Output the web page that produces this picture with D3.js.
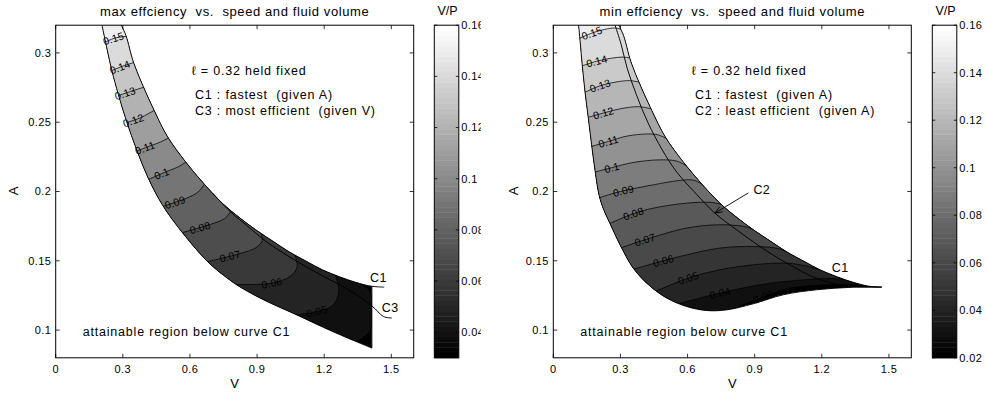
<!DOCTYPE html>
<html>
<head>
<meta charset="utf-8">
<script src="https://cdn.jsdelivr.net/npm/d3@7/dist/d3.min.js"></script>
<style>
  html,body{margin:0;padding:0;background:#fff;}
  svg{display:block;}
  text{font-family:"Liberation Sans", Arial, Helvetica, sans-serif; fill:#000; white-space:pre;}
</style>
</head>
<body>
<svg id="chart" width="986" height="395" viewBox="0 0 986 395"></svg>
<script>
// ===================== DATA =====================
const xTicks = [0, 0.3, 0.6, 0.9, 1.2, 1.5];
const xTickLabels = ["0", "0.3", "0.6", "0.9", "1.2", "1.5"];
const yTicks = [0.1, 0.15, 0.2, 0.25, 0.3];
const yTickLabels = ["0.1", "0.15", "0.2", "0.25", "0.3"];

const leftBarRange = [0.030, 0.16];
const leftBarTicks = [0.04, 0.06, 0.08, 0.1, 0.12, 0.14, 0.16];
const leftBarTickLabels = ["0.04", "0.06", "0.08", "0.1", "0.12", "0.14", "0.16"];
const rightBarRange = [0.02, 0.16];
const rightBarTicks = [0.02, 0.04, 0.06, 0.08, 0.1, 0.12, 0.14, 0.16];
const rightBarTickLabels = ["0.02", "0.04", "0.06", "0.08", "0.1", "0.12", "0.14", "0.16"];

// curve C1 : fastest (given A)  -- [V, A]
const curveC1 = [[0.293,0.320],[0.314,0.3125],[0.347,0.2935],[0.392,0.2755],[0.440,0.2585],
  [0.500,0.2395],[0.580,0.2215],[0.656,0.2068],[0.745,0.1915],[0.824,0.1808],[0.894,0.1724],
  [0.973,0.1639],[1.043,0.1565],[1.122,0.1495],[1.192,0.1435],[1.271,0.1383],[1.340,0.1345],
  [1.405,0.1318],[1.440,0.1312],[1.468,0.1310]];
// curve C3 : most efficient (given V)
const curveC3 = [[0.700,0.1990],[0.780,0.1855],[0.850,0.1760],[0.950,0.1628],[1.077,0.1497],
  [1.200,0.1385],[1.300,0.1300],[1.413,0.1175],[1.465,0.1098],[1.502,0.1087]];
// curve C2 : least efficient (given A)
const curveC2 = [[0.276,0.320],[0.3035,0.306],[0.330,0.289],[0.371,0.270],[0.422,0.250],
  [0.487,0.230],[0.544,0.2157],[0.581,0.2084],[0.640,0.1980],[0.722,0.1844],[0.820,0.1723],
  [0.924,0.1603],[1.043,0.1483],[1.192,0.1363],[1.320,0.1318],[1.420,0.1311],[1.468,0.1310]];

// left panel region: lower boundary and right cut-off
const leftLowerEdge = [[0.207,0.320],[0.250,0.2880],[0.280,0.2700],[0.317,0.2505],[0.362,0.2300],
  [0.414,0.2095],[0.478,0.1900],[0.563,0.1710],[0.675,0.1500],[0.750,0.1395],[0.830,0.1305],
  [0.940,0.1210],[1.070,0.1115],[1.240,0.0988],[1.413,0.0870]];
const leftRightEdgeV = 1.413;

// right panel region: lower boundary
const rightLowerEdge = [[0.113,0.320],[0.120,0.3085],[0.130,0.2900],[0.142,0.2715],[0.156,0.2535],
  [0.171,0.2340],[0.187,0.2145],[0.205,0.1970],[0.225,0.1870],[0.253,0.1770],[0.298,0.1616],
  [0.358,0.1445],[0.432,0.1318],[0.507,0.1231],[0.596,0.1170],[0.686,0.1141],[0.775,0.1146],
  [0.894,0.1190],[1.028,0.1255],[1.177,0.1291],[1.326,0.1308],[1.468,0.1310]];

// left panel contour levels (V/P) and lines (pieces of [V, A])
const leftLevels = [0.04, 0.05, 0.06, 0.07, 0.08, 0.09, 0.10, 0.11, 0.12, 0.13, 0.14, 0.15];
const leftContours = [
  [[[1.345,0.0915],[1.385,0.0960],[1.405,0.0995],[1.413,0.1025]],
   [[1.413,0.1245],[1.400,0.1290],[1.380,0.1318],[1.358,0.1337]]],
  [[[1.070,0.1108],[1.166,0.1134],[1.232,0.1170],[1.258,0.1230],[1.265,0.1300],[1.250,0.1397]]],
  [[[0.795,0.1328],[0.965,0.1339],[1.047,0.1387],[1.078,0.1450],[1.077,0.1500],[1.068,0.1545]]],
  [[[0.675,0.1492],[0.830,0.1555],[0.895,0.1595],[0.923,0.1645],[0.918,0.1698]]],
  [[[0.563,0.1702],[0.690,0.1762],[0.755,0.1805],[0.785,0.1860]]],
  [[[0.478,0.1892],[0.585,0.1952],[0.635,0.1995],[0.665,0.2052]]],
  [[[0.414,0.2087],[0.496,0.2144],[0.550,0.2180],[0.582,0.2212]]],
  [[[0.362,0.2292],[0.421,0.2328],[0.470,0.2358],[0.503,0.2386]]],
  [[[0.317,0.2497],[0.380,0.2533],[0.440,0.2585]]],
  [[[0.280,0.2692],[0.335,0.2722],[0.393,0.2752]]],
  [[[0.250,0.2872],[0.300,0.2905],[0.348,0.2930]]],
  [[[0.218,0.3075],[0.260,0.3105],[0.315,0.3120]]]
];
const leftLabelV = [null, 1.167, 0.966, 0.779, 0.645, 0.533, 0.474, 0.399, 0.347, 0.310, 0.287, 0.258];

// right panel contour levels and lines
const rightLevels = [0.03, 0.04, 0.05, 0.06, 0.07, 0.08, 0.09, 0.10, 0.11, 0.12, 0.13, 0.14, 0.15];
const rightContours = [
  [[[0.800,0.1150],[0.939,0.1240],[1.050,0.1300],[1.200,0.1325],[1.350,0.1326],[1.440,0.1314]]],
  [[[0.560,0.1190],[0.745,0.1267],[0.954,0.1335],[1.100,0.1360],[1.220,0.1372],[1.300,0.1368]]],
  [[[0.460,0.1282],[0.603,0.1375],[0.745,0.1435],[0.894,0.1471],[1.043,0.1483],[1.133,0.1462],[1.192,0.1435]]],
  [[[0.360,0.1440],[0.492,0.1500],[0.596,0.1543],[0.745,0.1592],[0.894,0.1603],[1.000,0.1590],[1.043,0.1565]]],
  [[[0.305,0.1595],[0.410,0.1652],[0.596,0.1736],[0.745,0.1760],[0.860,0.1745],[0.894,0.1724]]],
  [[[0.250,0.1768],[0.358,0.1840],[0.447,0.1880],[0.596,0.1916],[0.700,0.1922],[0.745,0.1910]]],
  [[[0.205,0.1955],[0.300,0.2000],[0.447,0.2048],[0.566,0.2080],[0.625,0.2082],[0.664,0.2054]]],
  [[[0.186,0.2140],[0.261,0.2172],[0.360,0.2210],[0.470,0.2228],[0.550,0.2220],[0.597,0.2184]]],
  [[[0.171,0.2325],[0.246,0.2361],[0.330,0.2400],[0.420,0.2415],[0.470,0.2408],[0.505,0.2384]]],
  [[[0.155,0.2535],[0.224,0.2566],[0.300,0.2597],[0.380,0.2612],[0.436,0.2598]]],
  [[[0.140,0.2715],[0.209,0.2763],[0.280,0.2790],[0.340,0.2800],[0.383,0.2790]]],
  [[[0.126,0.2905],[0.194,0.2940],[0.260,0.2962],[0.310,0.2970],[0.342,0.2964]]],
  [[[0.117,0.3105],[0.172,0.3143],[0.230,0.3170],[0.275,0.3180],[0.301,0.3172]]]
];
const rightLabelV = [0.939, 0.745, 0.603, 0.492, 0.410, 0.358, 0.313, 0.261, 0.246, 0.224, 0.209, 0.194, 0.172];

// texts
const leftTitle = "max effciency  vs.  speed and fluid volume";
const rightTitle = "min effciency  vs.  speed and fluid volume";
const leftNotes = ["\u2113 = 0.32 held fixed", "C1 : fastest  (given A)", "C3 : most efficient  (given V)"];
const rightNotes = ["\u2113 = 0.32 held fixed", "C1 : fastest  (given A)", "C2 : least efficient  (given A)"];
const regionNote = "attainable region below curve C1";
const c2ArrowFrom = [0.872, 0.1990];
const c2ArrowTo = [0.722, 0.1844];

// ===================== RENDERING =====================
const svg = d3.select("#chart");
const Y_RANGE = [357.8, 25.2];
const PLOT_W = 358;
const BAR_W = 24.5;
const smooth = d3.line().curve(d3.curveCatmullRom.alpha(0.5));

function makeScales(x0) {
  return {
    x: d3.scaleLinear().domain([0, 1.6]).range([x0, x0 + PLOT_W]),
    y: d3.scaleLinear().domain([0.08, 0.32]).range(Y_RANGE)
  };
}
function grayT(t) {
  t = Math.max(0, Math.min(1, t));
  const idx = Math.min(63, Math.floor(t * 64));
  const g = Math.round(idx / 63 * 255);
  return `rgb(${g},${g},${g})`;
}
function grayFor(v, range) { return grayT((v - range[0]) / (range[1] - range[0])); }
function toPix(pts, s) { return pts.map(p => [s.x(p[0]), s.y(p[1])]); }
function extendPix(pts, len) {
  const a = pts[0], b = pts[1], n = pts.length, c = pts[n - 1], d = pts[n - 2];
  const d1 = Math.hypot(a[0] - b[0], a[1] - b[1]), d2 = Math.hypot(c[0] - d[0], c[1] - d[1]);
  return [[a[0] + (a[0] - b[0]) / d1 * len, a[1] + (a[1] - b[1]) / d1 * len], ...pts,
          [c[0] + (c[0] - d[0]) / d2 * len, c[1] + (c[1] - d[1]) / d2 * len]];
}
function interpA(curve, v) {
  for (let i = 0; i < curve.length - 1; i++) {
    const p = curve[i], q = curve[i + 1];
    if (v >= p[0] && v <= q[0]) return p[1] + (q[1] - p[1]) * (v - p[0]) / (q[0] - p[0]);
  }
  return curve[curve.length - 1][1];
}
function levelFillPath(pieces, s) {
  let d = "", first, last;
  pieces.forEach((pc, i) => {
    const px = extendPix(toPix(pc, s), 5);
    const seg = smooth(px);
    d += i === 0 ? seg : seg.replace(/^M/, "L");
    if (i === 0) first = px[0];
    last = px[px.length - 1];
  });
  d += `L${last[0]},-2000L-3000,-2000L-3000,3000L${first[0]},3000Z`;
  return d;
}

let clipId = 0;
function drawPanel(cfg) {
  const s = makeScales(cfg.x0);
  const x0 = cfg.x0, x1 = cfg.x0 + PLOT_W, yb = Y_RANGE[0], yt = Y_RANGE[1];
  const g = svg.append("g");
  const defs = svg.append("defs");
  const pid = "pc" + (clipId++), rid = "rc" + (clipId++);
  defs.append("clipPath").attr("id", pid).append("rect")
    .attr("x", x0).attr("y", yt).attr("width", PLOT_W).attr("height", yb - yt);
  defs.append("clipPath").attr("id", rid).append("path").attr("d", cfg.regionD(s));

  const plotG = g.append("g").attr("clip-path", `url(#${pid})`);
  const regG = plotG.append("g").attr("clip-path", `url(#${rid})`);

  // base fill (lowest band)
  regG.append("path").attr("d", cfg.regionD(s)).attr("fill", grayFor(cfg.range[0], cfg.range));
  // filled bands
  cfg.levels.forEach((lv, i) => {
    regG.append("path").attr("d", levelFillPath(cfg.contours[i], s))
      .attr("fill", grayFor(lv, cfg.range)).attr("stroke", "none");
  });
  // contour lines
  const lineDs = cfg.contours.map(pieces => pieces.map(pc => smooth(extendPix(toPix(pc, s), 5))));
  lineDs.forEach(ds => ds.forEach(d => regG.append("path").attr("d", d)
    .attr("fill", "none").attr("stroke", "#000").attr("stroke-width", 0.75)));

  // boundaries and named curves
  cfg.outlines(s).forEach(d => plotG.append("path").attr("d", d)
    .attr("fill", "none").attr("stroke", "#000").attr("stroke-width", 0.95));

  // contour labels
  cfg.levels.forEach((lv, i) => {
    const lvV = cfg.labelV[i];
    if (lvV == null) return;
    const tmp = plotG.append("path").attr("d", lineDs[i][0]).attr("fill", "none");
    const node = tmp.node(), L = node.getTotalLength();
    const xt = s.x(lvV);
    let best = 0, prev = node.getPointAtLength(0);
    for (let k = 1; k <= 600; k++) {
      const p = node.getPointAtLength(L * k / 600);
      if ((prev.x - xt) * (p.x - xt) <= 0) { best = L * k / 600; break; }
      prev = p;
    }
    const p = node.getPointAtLength(best);
    const pa = node.getPointAtLength(Math.max(0, best - 5)), pb = node.getPointAtLength(Math.min(L, best + 5));
    let ang = Math.atan2(pb.y - pa.y, pb.x - pa.x) * 180 / Math.PI;
    if (ang > 90) ang -= 180; if (ang < -90) ang += 180;
    tmp.remove();
    plotG.append("text").attr("transform", `translate(${p.x},${p.y}) rotate(${ang})`)
      .attr("text-anchor", "middle").attr("dy", "0.36em")
      .style("font-size", "10.5px").style("letter-spacing", "0.2px").text(String(lv));
  });

  // axes frame and ticks
  const ax = g.append("g");
  xTicks.forEach((t, i) => {
    const X = s.x(t);
    ax.append("line").attr("x1", X).attr("x2", X).attr("y1", yb).attr("y2", yb - 4).attr("stroke", "#000").attr("stroke-width", 0.8);
    ax.append("line").attr("x1", X).attr("x2", X).attr("y1", yt).attr("y2", yt + 4).attr("stroke", "#000").attr("stroke-width", 0.8);
    ax.append("text").attr("x", X).attr("y", 373).attr("text-anchor", "middle")
      .style("font-size", "11px").style("letter-spacing", "0.4px").text(xTickLabels[i]);
  });
  yTicks.forEach((t, i) => {
    const Y = s.y(t);
    ax.append("line").attr("x1", x0).attr("x2", x0 + 4).attr("y1", Y).attr("y2", Y).attr("stroke", "#000").attr("stroke-width", 0.8);
    ax.append("line").attr("x1", x1).attr("x2", x1 - 4).attr("y1", Y).attr("y2", Y).attr("stroke", "#000").attr("stroke-width", 0.8);
    ax.append("text").attr("x", x0 - 4.5).attr("y", Y).attr("dy", "0.36em").attr("text-anchor", "end")
      .style("font-size", "11px").style("letter-spacing", "0.4px").text(yTickLabels[i]);
  });
  ax.append("rect").attr("x", x0).attr("y", yt).attr("width", PLOT_W).attr("height", yb - yt)
    .attr("fill", "none").attr("stroke", "#000").attr("stroke-width", 1);

  // titles and axis labels
  g.append("text").attr("x", x0 + PLOT_W / 2).attr("y", 16).attr("text-anchor", "middle")
    .style("font-size", "13px").style("letter-spacing", "0.6px").text(cfg.title);
  g.append("text").attr("x", x0 + PLOT_W / 2).attr("y", 388).attr("text-anchor", "middle")
    .style("font-size", "13px").text("V");
  g.append("text").attr("transform", `translate(${x0 - cfg.aDx},${191}) rotate(-90)`).attr("text-anchor", "middle")
    .attr("dy", "0.36em").style("font-size", "13px").text("A");

  // notes
  const noteY = [74.5, 98.5, 115];
  cfg.notes.forEach((t, i) => {
    g.append("text").attr("x", x0 + (i === 0 ? cfg.noteDx - 3.3 : cfg.noteDx)).attr("y", noteY[i])
      .style("font-size", "12.5px").style("letter-spacing", "0.8px").text(t);
  });
  g.append("text").attr("x", x0 + 27).attr("y", 336)
    .style("font-size", "12.5px").style("letter-spacing", "0.8px").text(regionNote);

  cfg.curveLabels.forEach(cl => {
    g.append("text").attr("x", s.x(cl.v)).attr("y", s.y(cl.a)).attr("dy", "0.36em").attr("text-anchor", "middle")
      .style("font-size", "12.5px").style("letter-spacing", "0.4px").text(cl.t);
  });
  if (cfg.extra) cfg.extra(g, s);
  return s;
}

function drawColorbar(bx, range, ticks, tickLabels, clipRight) {
  const g = svg.append("g");
  const ys = d3.scaleLinear().domain(range).range(Y_RANGE);
  const n = 64, h = (Y_RANGE[0] - Y_RANGE[1]) / n;
  for (let i = 0; i < n; i++) {
    g.append("rect").attr("x", bx).attr("y", Y_RANGE[0] - (i + 1) * h).attr("width", BAR_W)
      .attr("height", h + 0.4).attr("fill", grayT(i / 63));
  }
  g.append("rect").attr("x", bx).attr("y", Y_RANGE[1]).attr("width", BAR_W).attr("height", Y_RANGE[0] - Y_RANGE[1])
    .attr("fill", "none").attr("stroke", "#000").attr("stroke-width", 1);
  const lg = g.append("g");
  if (clipRight) {
    const cid = "cb" + (clipId++);
    svg.append("defs").append("clipPath").attr("id", cid).append("rect")
      .attr("x", 0).attr("y", 0).attr("width", clipRight).attr("height", 395);
    lg.attr("clip-path", `url(#${cid})`);
  }
  ticks.forEach((t, i) => {
    const Y = ys(t);
    g.append("line").attr("x1", bx).attr("x2", bx + 3).attr("y1", Y).attr("y2", Y).attr("stroke", "#000").attr("stroke-width", 0.8);
    g.append("line").attr("x1", bx + BAR_W).attr("x2", bx + BAR_W - 3).attr("y1", Y).attr("y2", Y).attr("stroke", "#000").attr("stroke-width", 0.8);
    lg.append("text").attr("x", bx + BAR_W + 2.5).attr("y", Y).attr("dy", "0.36em")
      .style("font-size", "11px").style("letter-spacing", "0.4px").text(tickLabels[i]);
  });
  g.append("text").attr("x", bx + BAR_W / 2 + 1).attr("y", 15).attr("text-anchor", "middle")
    .style("font-size", "12.5px").text("V/P");
}

// ---------- left panel ----------
drawPanel({
  x0: 55.7, title: leftTitle, notes: leftNotes, noteDx: 139.3, aDx: 42, range: leftBarRange,
  levels: leftLevels, contours: leftContours, labelV: leftLabelV,
  regionD: s => {
    const c1Cut = curveC1.filter(p => p[0] < leftRightEdgeV - 1e-6);
    c1Cut.push([leftRightEdgeV, interpA(curveC1, leftRightEdgeV)]);
    return smooth(toPix(leftLowerEdge, s)) + smooth(toPix(c1Cut.slice().reverse(), s)).replace(/^M/, "L") + "Z";
  },
  outlines: s => [
    smooth(toPix(leftLowerEdge, s)),
    `M${s.x(leftRightEdgeV)},${s.y(leftLowerEdge[leftLowerEdge.length - 1][1])}L${s.x(leftRightEdgeV)},${s.y(interpA(curveC1, leftRightEdgeV))}`,
    smooth(toPix(curveC1, s)),
    smooth(toPix(curveC3, s))
  ],
  curveLabels: [{t: "C1", v: 1.442, a: 0.1382}, {t: "C3", v: 1.495, a: 0.1163}]
});

// ---------- right panel ----------
drawPanel({
  x0: 553.3, title: rightTitle, notes: rightNotes, noteDx: 141.7, aDx: 40, range: rightBarRange,
  levels: rightLevels, contours: rightContours, labelV: rightLabelV,
  regionD: s => smooth(toPix(rightLowerEdge, s)) + smooth(toPix(curveC1.slice().reverse(), s)).replace(/^M/, "L") + "Z",
  outlines: s => [smooth(toPix(rightLowerEdge, s)), smooth(toPix(curveC1, s)), smooth(toPix(curveC2, s))],
  curveLabels: [{t: "C1", v: 1.282, a: 0.1455}, {t: "C2", v: 0.932, a: 0.2012}],
  extra: (g, s) => {
    const fx = s.x(c2ArrowFrom[0]), fy = s.y(c2ArrowFrom[1]);
    const tx = s.x(c2ArrowTo[0]), ty = s.y(c2ArrowTo[1]);
    g.append("line").attr("x1", fx).attr("y1", fy).attr("x2", tx).attr("y2", ty)
      .attr("stroke", "#000").attr("stroke-width", 0.9);
    const ang = Math.atan2(fy - ty, fx - tx);
    const hl = 8, spread = 0.38;
    const p1 = [tx + hl * Math.cos(ang + spread), ty + hl * Math.sin(ang + spread)];
    const p2 = [tx + hl * Math.cos(ang - spread), ty + hl * Math.sin(ang - spread)];
    g.append("path").attr("d", `M${p1[0]},${p1[1]}L${tx},${ty}L${p2[0]},${p2[1]}`)
      .attr("fill", "none").attr("stroke", "#000").attr("stroke-width", 0.9);
  }
});

drawColorbar(434.3, leftBarRange, leftBarTicks, leftBarTickLabels, 480.8);
drawColorbar(932.3, rightBarRange, rightBarTicks, rightBarTickLabels, null);
</script>
</body>
</html>
